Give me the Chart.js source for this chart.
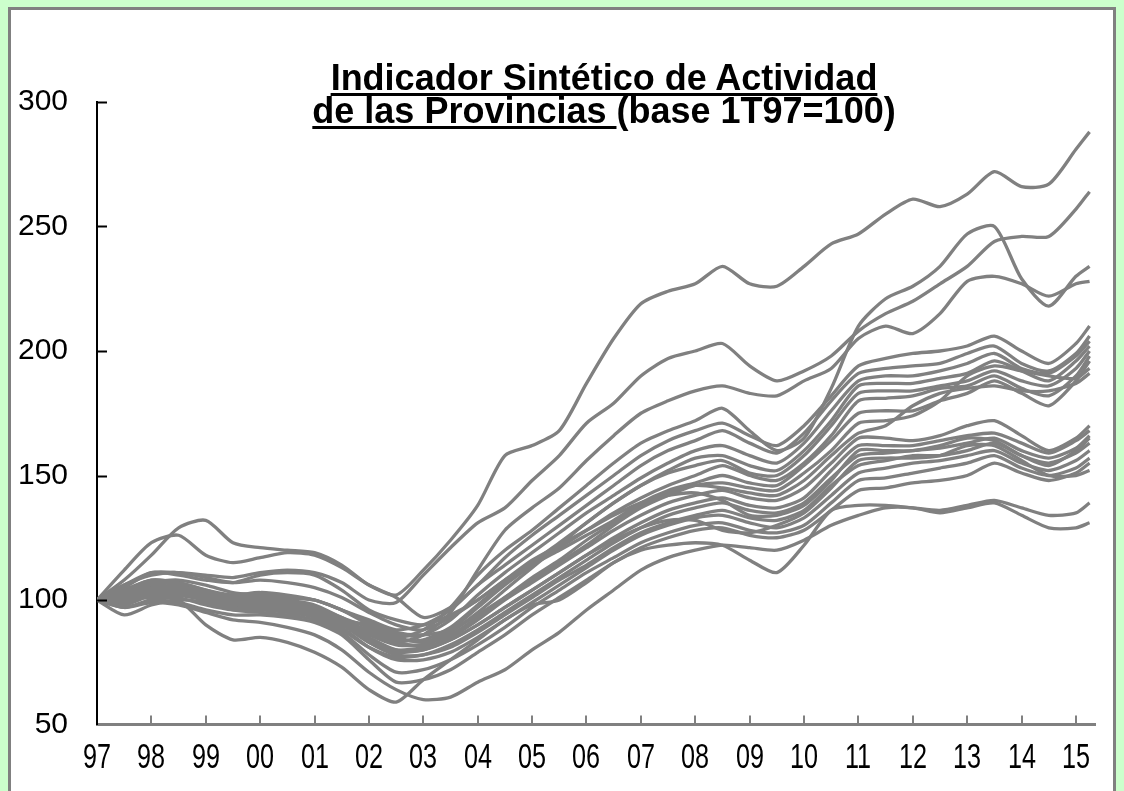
<!DOCTYPE html>
<html>
<head>
<meta charset="utf-8">
<script src="https://cdn.jsdelivr.net/npm/chart.js@4.4.1/dist/chart.umd.min.js"></script>
<style>
  html, body { margin:0; padding:0; }
  body { width:1124px; height:791px; overflow:hidden; background:#ccffcc; position:relative; }
  .frame { position:absolute; left:8px; top:7px; width:1108px; height:820px; box-sizing:border-box; border:3px solid #808080; background:#fff; }
  #c { position:absolute; left:0; top:0; }
  .title { position:absolute; left:304px; width:600px; top:61px; text-align:center;
           font-family:"Liberation Sans",Arial,sans-serif;
           font-weight:bold; font-size:36px; line-height:33px; color:#000; }
  .title u { text-decoration-thickness:3px; text-underline-offset:3px; }
  .xl { position:absolute; top:738px; font-family:"Liberation Sans",Arial,sans-serif; font-size:35px; line-height:35px;
        color:#000; white-space:nowrap; transform:translateX(-50%) scaleX(0.72); }
</style>
</head>
<body>
<div class="frame"></div>
<canvas id="c" width="1124" height="791"></canvas>
<div class="title"><u>Indicador Sintético de Actividad</u><br><u>de las Provincias </u>(base 1T97=100)</div>
<div id="xlabels"></div>
<script>
// quarter index from 1T97 (0) to 2T15 (73), sampled every half year
const QUARTERS = [0,2,4,6,8,10,12,14,16,18,20,22,24,26,28,30,32,34,36,38,40,42,44,46,48,50,52,54,56,58,60,62,64,66,68,70,72,73];
const YEAR_LABELS = ['97','98','99','00','01','02','03','04','05','06','07','08','09','10','11','12','13','14','15'];
const Y_TICKS = [50,100,150,200,250,300];

// one array per province, base 1T97=100
const serie01 = [100,108,118,129,132,123,121,120,119,114,106,102,112,124,138,158,162,168,187,205,219,224,227,234,227,226,234,243,247,255,261,258,263,272,266,267,281,288];
const serie02 = [100,105,111,111,110,109,111,112,111,107,100,99,110,121,131,137,148,158,171,179,190,197,200,203,194,188,192,198,208,215,220,227,234,244,246,246,257,264];
const serie03 = [100,103,106,104,103,101,103,102,100,96,90,85,88,97,110,120,128,137,146,155,163,168,172,177,168,160,165,185,210,221,226,234,247,250,229,218,230,234];
const serie04 = [100,101,104,103,101,99,100,99,97,93,87,83,86,95,112,128,137,145,156,166,175,180,184,186,183,182,188,193,205,210,207,215,228,230,227,222,227,228];
const serie05 = [100,112,123,126,118,115,117,119,118,113,106,101,93,97,106,117,126,134,142,150,158,164,168,171,166,162,170,182,194,197,199,200,202,206,200,195,203,210];
const serie06 = [100,104,108,107,104,102,103,101,100,96,92,88,90,96,106,114,122,130,138,146,154,160,164,168,163,159,167,180,191,193,194,195,199,202,195,192,199,206];
const serie07 = [100,98,102,104,102,100,101,99,97,92,90,86,86,92,102,111,119,127,135,142,149,155,160,162,158,155,163,176,188,190,190,192,195,199,193,191,198,204];
const serie08 = [100,106,110,111,109,107,108,107,105,101,95,90,88,93,100,108,115,123,131,139,146,152,157,158,154,152,160,172,186,187,187,189,191,196,192,188,196,202];
const serie09 = [100,102,105,103,100,97,97,96,94,90,87,83,82,87,95,104,113,122,131,139,146,151,154,156,151,150,158,170,183,184,184,186,188,192,188,186,193,200];
const serie10 = [100,103,107,106,103,101,102,100,98,93,89,85,83,88,97,106,114,121,128,135,141,146,150,154,150,148,155,166,180,181,182,185,186,190,185,182,190,198];
const serie11 = [100,101,104,104,101,99,99,97,95,91,88,84,84,89,98,107,114,120,126,132,139,144,147,150,147,146,154,164,175,176,176,180,183,188,183,178,188,196];
const serie12 = [100,104,107,108,106,103,102,101,100,96,91,87,86,88,94,101,108,115,122,130,137,142,146,147,145,144,151,160,171,172,174,180,190,194,192,190,189,193];
const serie13 = [100,103,106,105,102,100,100,98,96,92,86,82,82,86,93,101,109,116,124,131,138,143,146,145,143,142,148,158,167,170,178,183,185,186,184,184,187,191];
const serie14 = [100,103,105,104,101,99,99,98,96,92,84,80,81,85,92,100,107,114,121,128,134,139,142,144,141,140,145,155,165,165,164,166,170,172,166,160,165,170];
const serie15 = [100,100,103,103,100,97,97,96,94,90,83,79,80,84,90,97,104,111,118,125,131,136,139,141,138,137,141,152,162,162,162,164,166,167,163,159,164,168];
const serie16 = [100,104,108,107,104,101,100,98,96,91,83,78,78,82,88,95,102,109,116,123,129,134,137,139,136,135,139,149,158,159,160,161,163,165,160,157,161,166];
const serie17 = [100,99,102,101,98,96,96,95,93,88,81,77,78,81,87,94,101,108,114,121,127,131,134,136,133,132,136,146,154,156,158,158,160,163,158,155,159,163];
const serie18 = [100,102,104,103,100,98,97,96,94,89,81,76,76,79,85,92,99,106,113,120,126,130,133,134,131,129,133,142,151,153,155,156,158,160,155,152,156,160];
const serie19 = [100,94,98,100,99,96,95,94,92,87,78,71,72,76,82,89,97,104,111,117,123,127,130,131,128,127,130,139,148,149,151,153,155,158,153,150,153,157];
const serie20 = [100,97,100,99,96,94,94,93,91,86,76,67,68,72,79,86,94,101,108,115,121,125,128,129,126,125,128,136,144,145,147,148,150,155,151,148,151,155];
const serie21 = [100,101,103,102,100,98,98,97,95,91,85,80,80,84,90,97,104,111,118,124,129,132,132,128,127,130,135,145,156,157,157,158,162,162,156,150,150,152];
const serie22 = [100,106,111,110,108,107,110,111,110,104,96,92,90,94,100,108,116,122,128,134,139,142,143,140,134,134,138,148,160,160,160,162,165,164,158,154,160,165];
const serie23 = [100,100,101,100,90,84,85,83,79,73,64,59,68,76,84,92,98,100,107,115,120,122,123,122,116,111,122,136,138,138,137,136,138,140,137,134,135,139];
const serie24 = [100,97,99,98,95,92,91,89,86,80,71,64,60,61,67,72,80,87,96,104,112,117,120,122,121,120,124,130,134,137,137,135,137,139,134,129,129,131];

const SERIES = [serie01,serie02,serie03,serie04,serie05,serie06,serie07,serie08,serie09,serie10,serie11,serie12,
                serie13,serie14,serie15,serie16,serie17,serie18,serie19,serie20,serie21,serie22,serie23,serie24];

const GRAY = '#808080';
const SANS = '"Liberation Sans",Arial,sans-serif';

// small inward tick marks, like the original
const innerTicks = {
  id:'innerTicks',
  afterDatasetsDraw(chart){
    const {ctx, chartArea:a, scales:{x, y}} = chart;
    ctx.save();
    ctx.lineWidth = 2;
    ctx.strokeStyle = '#000';
    Y_TICKS.slice(1).forEach(v => {
      const py = Math.round(y.getPixelForValue(v)) + 0.5;
      ctx.beginPath(); ctx.moveTo(a.left, py); ctx.lineTo(a.left + 10, py); ctx.stroke();
    });
    ctx.strokeStyle = GRAY;
    YEAR_LABELS.forEach((_, i) => {
      if (i === 0) return;
      const px = Math.round(x.getPixelForValue(i*4));
      ctx.beginPath(); ctx.moveTo(px, a.bottom); ctx.lineTo(px, a.bottom - 9); ctx.stroke();
    });
    ctx.restore();
  }
};

const chart = new Chart(document.getElementById('c'), {
  type:'line',
  data:{ datasets: SERIES.map((vals, k) => ({
    label:'Provincia ' + (k+1),
    data: vals.map((v, i) => ({x: QUARTERS[i], y: v})),
    borderColor: GRAY, borderWidth: 3.3, pointRadius: 0, tension: 0.25, fill: false
  })) },
  options:{
    responsive:false, animation:false, devicePixelRatio:1,
    layout:{ padding:{ top:102, right:29, left:0, bottom:0 } },
    plugins:{ legend:{display:false}, tooltip:{enabled:false} },
    scales:{
      x:{ type:'linear', min:0, max:73.4,
          afterBuildTicks: s => { s.ticks = YEAR_LABELS.map((_, i) => ({value: i*4})); },
          afterFit: s => { s.height = 66.5; },
          ticks:{ display:false },
          grid:{ display:false },
          border:{ color:GRAY, width:3 } },
      y:{ min:50, max:300,
          afterBuildTicks: s => { s.ticks = Y_TICKS.map(v => ({value:v})); },
          afterFit: s => { s.width = 97; },
          ticks:{ color:'#000', padding:21, font:{family:SANS, size:30} },
          grid:{ display:false },
          border:{ color:'#000', width:2 } }
    }
  },
  plugins:[innerTicks]
});

// year labels in a tall narrow face, placed on the chart's own x scale
const $xl = document.getElementById('xlabels');
YEAR_LABELS.forEach((t, i) => {
  const s = document.createElement('span');
  s.className = 'xl';
  s.textContent = t;
  s.style.left = chart.scales.x.getPixelForValue(i*4) + 'px';
  $xl.appendChild(s);
});
</script>
</body>
</html>
